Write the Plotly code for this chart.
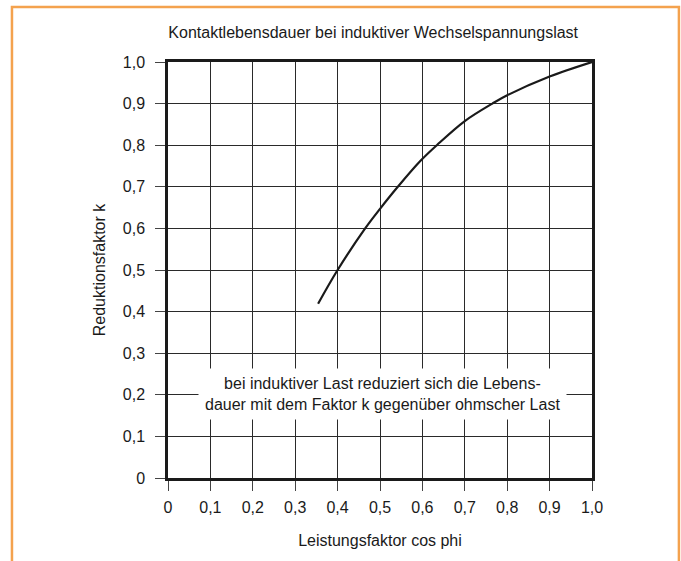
import plotly.graph_objects as go

# data
cos_phi = [0.354, 0.4, 0.465, 0.5, 0.542, 0.595, 0.634, 0.7, 0.765, 0.8, 0.9, 1.0]
k_factor = [0.419, 0.5, 0.6, 0.647, 0.7, 0.762, 0.8, 0.858, 0.9, 0.920, 0.965, 1.0]
x_ticks = [0, 0.1, 0.2, 0.3, 0.4, 0.5, 0.6, 0.7, 0.8, 0.9, 1.0]
x_labels = ["0", "0,1", "0,2", "0,3", "0,4", "0,5", "0,6", "0,7", "0,8", "0,9", "1,0"]
y_ticks = [0, 0.1, 0.2, 0.3, 0.4, 0.5, 0.6, 0.7, 0.8, 0.9, 1.0]
y_labels = ["0", "0,1", "0,2", "0,3", "0,4", "0,5", "0,6", "0,7", "0,8", "0,9", "1,0"]

title = "Kontaktlebensdauer bei induktiver Wechselspannungslast"
x_title = "Leistungsfaktor cos phi"
y_title = "Reduktionsfaktor k"
note = "bei induktiver Last reduziert sich die Lebens-<br>dauer mit dem Faktor k gegenüber ohmscher Last"

FONT = "Liberation Sans, Arial, sans-serif"
FS = 16

fig = go.Figure()
fig.add_trace(go.Scatter(x=cos_phi, y=k_factor, mode="lines",
                         line=dict(color="#1a1a1a", width=2.2, shape="spline", smoothing=1.0),
                         showlegend=False, hoverinfo="skip"))

axis_common = dict(
    range=[0, 1], showgrid=True, gridcolor="#2a2a2a", gridwidth=1,
    showline=True, linecolor="#1a1a1a", linewidth=2.5, mirror=True,
    ticks="outside", ticklen=10, tickcolor="#444", tickwidth=1,
    tickfont=dict(family=FONT, size=FS, color="#1a1a1a"),
    zeroline=False, fixedrange=True,
)

fig.update_xaxes(**axis_common, tickvals=x_ticks, ticktext=x_labels, ticklabelstandoff=3,
                 title=dict(text=x_title, font=dict(family=FONT, size=FS, color="#1a1a1a"), standoff=20))
fig.update_yaxes(**axis_common, tickvals=y_ticks, ticktext=y_labels, ticklabelstandoff=7,
                 title=dict(text=y_title, font=dict(family=FONT, size=FS, color="#1a1a1a"), standoff=14))

fig.add_annotation(x=0.505, y=0.203, xref="x", yref="y", text=note, showarrow=False,
                   font=dict(family=FONT, size=FS, color="#1a1a1a"),
                   bgcolor="white", borderpad=6, align="center")

# orange frame (open at the bottom)
fig.add_shape(type="path", xref="paper", yref="paper",
              path="M -0.368,-0.3 L -0.368,1.132 L 1.205,1.132 L 1.205,-0.3",
              line=dict(color="#F4A24E", width=2.5), layer="above")

fig.update_layout(
    width=681, height=561,
    margin=dict(l=168, r=89, t=62, b=83),
    paper_bgcolor="white", plot_bgcolor="white",
    title=dict(text=title, x=0.548, xanchor="center", y=0.942, yanchor="middle",
               font=dict(family=FONT, size=FS, color="#1a1a1a")),
    font=dict(family=FONT, size=FS, color="#1a1a1a"),
)

fig.write_html("out.html", config={"displayModeBar": False},
               post_script="document.body.style.margin='0';document.body.style.overflow='hidden';")
